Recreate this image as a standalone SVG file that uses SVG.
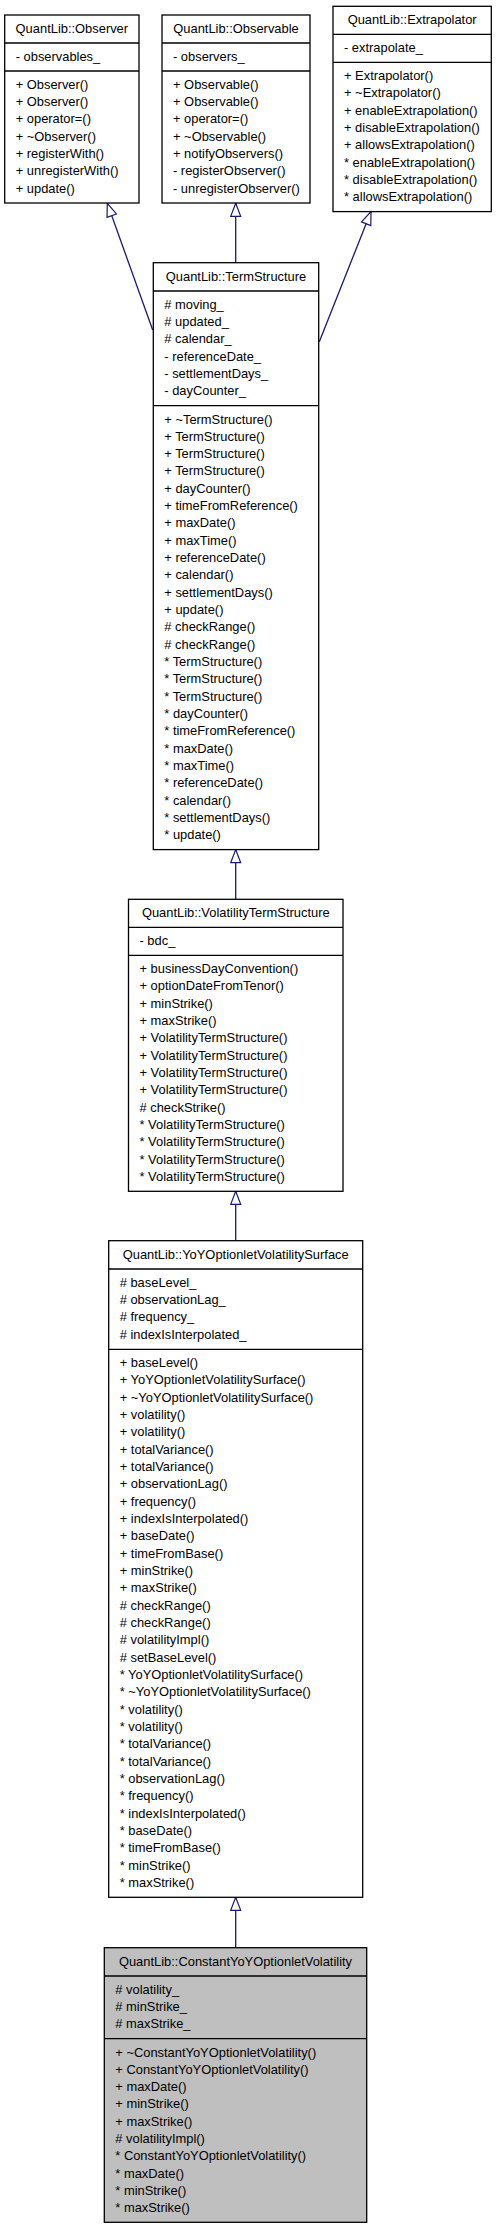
<svg xmlns="http://www.w3.org/2000/svg" width="496" height="2229" viewBox="0 0 496 2229">
<defs>
<style>
.box{fill:#ffffff;stroke:#000000;stroke-width:1.3}
.cur{fill:#bfbfbf;stroke:#000000;stroke-width:1.3}
.div{stroke:#000000;stroke-width:1.3}
.t{font-family:"Liberation Sans",Arial,Helvetica,sans-serif;font-size:12.9px;fill:#000000}
.c{text-anchor:middle}
.edge{stroke:#191970;stroke-width:1.3;fill:none;marker-end:url(#inh)}
</style>
<marker id="inh" markerUnits="userSpaceOnUse" markerWidth="16" markerHeight="12" refX="13.6" refY="5" orient="auto" overflow="visible">
<path d="M0.5,0 L13.6,5 L0.5,10 Z" fill="#ffffff" stroke="#191970" stroke-width="1.2"/>
</marker>
</defs>
<rect x="0" y="0" width="496" height="2229" fill="#ffffff"/>

<g id="connectors">
<path class="edge" d="M152.7,330 L107.3,203.3"/>
<path class="edge" d="M235.7,262.7 L235.7,203.3"/>
<path class="edge" d="M319.3,341.7 L371,211.6"/>
<path class="edge" d="M235.7,899.3 L235.7,849.6"/>
<path class="edge" d="M235.7,1240.7 L235.7,1191.3"/>
<path class="edge" d="M235.7,1947.7 L235.7,1897.3"/>
</g>

<g id="observer">
<rect class="box" x="4.7" y="15" width="134.3" height="188"/>
<line class="div" x1="4.7" y1="43" x2="139" y2="43"/>
<line class="div" x1="4.7" y1="71" x2="139" y2="71"/>
<text class="t c" x="71.85" y="33">QuantLib::Observer</text>
<text class="t" x="15.7" y="60.8">- observables_</text>
<text class="t" x="15.7" y="88.8"><tspan>+ Observer()</tspan><tspan x="15.7" dy="17.33">+ Observer()</tspan><tspan x="15.7" dy="17.33">+ operator=()</tspan><tspan x="15.7" dy="17.33">+ ~Observer()</tspan><tspan x="15.7" dy="17.33">+ registerWith()</tspan><tspan x="15.7" dy="17.33">+ unregisterWith()</tspan><tspan x="15.7" dy="17.33">+ update()</tspan></text>
</g>

<g id="observable">
<rect class="box" x="162" y="15" width="148" height="188"/>
<line class="div" x1="162" y1="43" x2="310" y2="43"/>
<line class="div" x1="162" y1="71" x2="310" y2="71"/>
<text class="t c" x="236" y="33">QuantLib::Observable</text>
<text class="t" x="173" y="60.8">- observers_</text>
<text class="t" x="173" y="88.8"><tspan>+ Observable()</tspan><tspan x="173" dy="17.33">+ Observable()</tspan><tspan x="173" dy="17.33">+ operator=()</tspan><tspan x="173" dy="17.33">+ ~Observable()</tspan><tspan x="173" dy="17.33">+ notifyObservers()</tspan><tspan x="173" dy="17.33">- registerObserver()</tspan><tspan x="173" dy="17.33">- unregisterObserver()</tspan></text>
</g>

<g id="extrapolator">
<rect class="box" x="333" y="6.3" width="158.3" height="205.3"/>
<line class="div" x1="333" y1="34.3" x2="491.3" y2="34.3"/>
<line class="div" x1="333" y1="62.3" x2="491.3" y2="62.3"/>
<text class="t c" x="412.15" y="24.3">QuantLib::Extrapolator</text>
<text class="t" x="344" y="52.1">- extrapolate_</text>
<text class="t" x="344" y="80.1"><tspan>+ Extrapolator()</tspan><tspan x="344" dy="17.33">+ ~Extrapolator()</tspan><tspan x="344" dy="17.33">+ enableExtrapolation()</tspan><tspan x="344" dy="17.33">+ disableExtrapolation()</tspan><tspan x="344" dy="17.33">+ allowsExtrapolation()</tspan><tspan x="344" dy="17.33">* enableExtrapolation()</tspan><tspan x="344" dy="17.33">* disableExtrapolation()</tspan><tspan x="344" dy="17.33">* allowsExtrapolation()</tspan></text>
</g>

<g id="termstructure">
<rect class="box" x="153.3" y="262.7" width="165.4" height="586.9"/>
<line class="div" x1="153.3" y1="291" x2="318.7" y2="291"/>
<line class="div" x1="153.3" y1="405.67" x2="318.7" y2="405.67"/>
<text class="t c" x="236" y="280.7">QuantLib::TermStructure</text>
<text class="t" x="164.3" y="308.8"><tspan># moving_</tspan><tspan x="164.3" dy="17.33"># updated_</tspan><tspan x="164.3" dy="17.33"># calendar_</tspan><tspan x="164.3" dy="17.33">- referenceDate_</tspan><tspan x="164.3" dy="17.33">- settlementDays_</tspan><tspan x="164.3" dy="17.33">- dayCounter_</tspan></text>
<text class="t" x="164.3" y="423.5"><tspan>+ ~TermStructure()</tspan><tspan x="164.3" dy="17.33">+ TermStructure()</tspan><tspan x="164.3" dy="17.33">+ TermStructure()</tspan><tspan x="164.3" dy="17.33">+ TermStructure()</tspan><tspan x="164.3" dy="17.33">+ dayCounter()</tspan><tspan x="164.3" dy="17.33">+ timeFromReference()</tspan><tspan x="164.3" dy="17.33">+ maxDate()</tspan><tspan x="164.3" dy="17.33">+ maxTime()</tspan><tspan x="164.3" dy="17.33">+ referenceDate()</tspan><tspan x="164.3" dy="17.33">+ calendar()</tspan><tspan x="164.3" dy="17.33">+ settlementDays()</tspan><tspan x="164.3" dy="17.33">+ update()</tspan><tspan x="164.3" dy="17.33"># checkRange()</tspan><tspan x="164.3" dy="17.33"># checkRange()</tspan><tspan x="164.3" dy="17.33">* TermStructure()</tspan><tspan x="164.3" dy="17.33">* TermStructure()</tspan><tspan x="164.3" dy="17.33">* TermStructure()</tspan><tspan x="164.3" dy="17.33">* dayCounter()</tspan><tspan x="164.3" dy="17.33">* timeFromReference()</tspan><tspan x="164.3" dy="17.33">* maxDate()</tspan><tspan x="164.3" dy="17.33">* maxTime()</tspan><tspan x="164.3" dy="17.33">* referenceDate()</tspan><tspan x="164.3" dy="17.33">* calendar()</tspan><tspan x="164.3" dy="17.33">* settlementDays()</tspan><tspan x="164.3" dy="17.33">* update()</tspan></text>
</g>

<g id="volatilitytermstructure">
<rect class="box" x="128.5" y="899.3" width="214.5" height="292"/>
<line class="div" x1="128.5" y1="927.3" x2="343" y2="927.3"/>
<line class="div" x1="128.5" y1="955.3" x2="343" y2="955.3"/>
<text class="t c" x="235.75" y="917.3">QuantLib::VolatilityTermStructure</text>
<text class="t" x="139.5" y="945.1">- bdc_</text>
<text class="t" x="139.5" y="973.1"><tspan>+ businessDayConvention()</tspan><tspan x="139.5" dy="17.33">+ optionDateFromTenor()</tspan><tspan x="139.5" dy="17.33">+ minStrike()</tspan><tspan x="139.5" dy="17.33">+ maxStrike()</tspan><tspan x="139.5" dy="17.33">+ VolatilityTermStructure()</tspan><tspan x="139.5" dy="17.33">+ VolatilityTermStructure()</tspan><tspan x="139.5" dy="17.33">+ VolatilityTermStructure()</tspan><tspan x="139.5" dy="17.33">+ VolatilityTermStructure()</tspan><tspan x="139.5" dy="17.33"># checkStrike()</tspan><tspan x="139.5" dy="17.33">* VolatilityTermStructure()</tspan><tspan x="139.5" dy="17.33">* VolatilityTermStructure()</tspan><tspan x="139.5" dy="17.33">* VolatilityTermStructure()</tspan><tspan x="139.5" dy="17.33">* VolatilityTermStructure()</tspan></text>
</g>

<g id="yoyoptionletvolatilitysurface">
<rect class="box" x="108.7" y="1240.7" width="254" height="656.6"/>
<line class="div" x1="108.7" y1="1269" x2="362.7" y2="1269"/>
<line class="div" x1="108.7" y1="1349.3" x2="362.7" y2="1349.3"/>
<text class="t c" x="235.7" y="1258.7">QuantLib::YoYOptionletVolatilitySurface</text>
<text class="t" x="119.7" y="1286.8"><tspan># baseLevel_</tspan><tspan x="119.7" dy="17.33"># observationLag_</tspan><tspan x="119.7" dy="17.33"># frequency_</tspan><tspan x="119.7" dy="17.33"># indexIsInterpolated_</tspan></text>
<text class="t" x="119.7" y="1367.1"><tspan>+ baseLevel()</tspan><tspan x="119.7" dy="17.33">+ YoYOptionletVolatilitySurface()</tspan><tspan x="119.7" dy="17.33">+ ~YoYOptionletVolatilitySurface()</tspan><tspan x="119.7" dy="17.33">+ volatility()</tspan><tspan x="119.7" dy="17.33">+ volatility()</tspan><tspan x="119.7" dy="17.33">+ totalVariance()</tspan><tspan x="119.7" dy="17.33">+ totalVariance()</tspan><tspan x="119.7" dy="17.33">+ observationLag()</tspan><tspan x="119.7" dy="17.33">+ frequency()</tspan><tspan x="119.7" dy="17.33">+ indexIsInterpolated()</tspan><tspan x="119.7" dy="17.33">+ baseDate()</tspan><tspan x="119.7" dy="17.33">+ timeFromBase()</tspan><tspan x="119.7" dy="17.33">+ minStrike()</tspan><tspan x="119.7" dy="17.33">+ maxStrike()</tspan><tspan x="119.7" dy="17.33"># checkRange()</tspan><tspan x="119.7" dy="17.33"># checkRange()</tspan><tspan x="119.7" dy="17.33"># volatilityImpl()</tspan><tspan x="119.7" dy="17.33"># setBaseLevel()</tspan><tspan x="119.7" dy="17.33">* YoYOptionletVolatilitySurface()</tspan><tspan x="119.7" dy="17.33">* ~YoYOptionletVolatilitySurface()</tspan><tspan x="119.7" dy="17.33">* volatility()</tspan><tspan x="119.7" dy="17.33">* volatility()</tspan><tspan x="119.7" dy="17.33">* totalVariance()</tspan><tspan x="119.7" dy="17.33">* totalVariance()</tspan><tspan x="119.7" dy="17.33">* observationLag()</tspan><tspan x="119.7" dy="17.33">* frequency()</tspan><tspan x="119.7" dy="17.33">* indexIsInterpolated()</tspan><tspan x="119.7" dy="17.33">* baseDate()</tspan><tspan x="119.7" dy="17.33">* timeFromBase()</tspan><tspan x="119.7" dy="17.33">* minStrike()</tspan><tspan x="119.7" dy="17.33">* maxStrike()</tspan></text>
</g>

<g id="constantyoyoptionletvolatility">
<rect class="cur" x="104.3" y="1947.7" width="262.4" height="274.6"/>
<line class="div" x1="104.3" y1="1976" x2="366.7" y2="1976"/>
<line class="div" x1="104.3" y1="2038.67" x2="366.7" y2="2038.67"/>
<text class="t c" x="235.5" y="1965.7">QuantLib::ConstantYoYOptionletVolatility</text>
<text class="t" x="115.3" y="1993.8"><tspan># volatility_</tspan><tspan x="115.3" dy="17.33"># minStrike_</tspan><tspan x="115.3" dy="17.33"># maxStrike_</tspan></text>
<text class="t" x="115.3" y="2056.5"><tspan>+ ~ConstantYoYOptionletVolatility()</tspan><tspan x="115.3" dy="17.33">+ ConstantYoYOptionletVolatility()</tspan><tspan x="115.3" dy="17.33">+ maxDate()</tspan><tspan x="115.3" dy="17.33">+ minStrike()</tspan><tspan x="115.3" dy="17.33">+ maxStrike()</tspan><tspan x="115.3" dy="17.33"># volatilityImpl()</tspan><tspan x="115.3" dy="17.33">* ConstantYoYOptionletVolatility()</tspan><tspan x="115.3" dy="17.33">* maxDate()</tspan><tspan x="115.3" dy="17.33">* minStrike()</tspan><tspan x="115.3" dy="17.33">* maxStrike()</tspan></text>
</g>
</svg>
